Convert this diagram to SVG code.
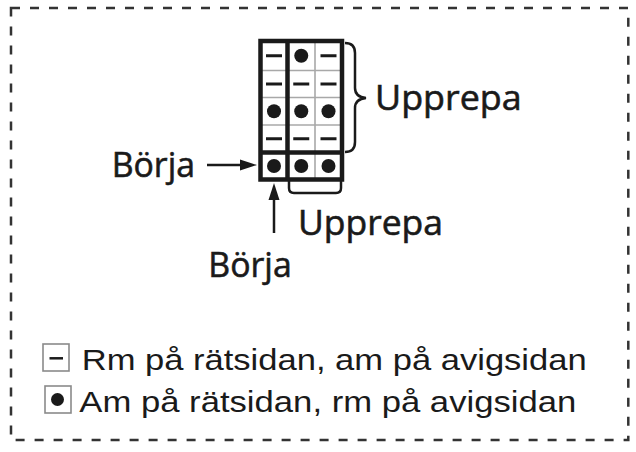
<svg xmlns="http://www.w3.org/2000/svg" width="636" height="452" viewBox="0 0 636 452">
<style>
.lbl{font-family:"Open Sans","Liberation Sans",sans-serif;font-size:35px;fill:#1a1a1a;stroke:#1a1a1a;stroke-width:0.6}
.leg{font-family:"Liberation Sans",Arial,sans-serif;font-size:29px;fill:#1a1a1a}
.thick{stroke:#1a1a1a;stroke-width:4.5;fill:none}
.thin{stroke:#a8a8a8;stroke-width:1.6;fill:none}
.dash{stroke:#1a1a1a;stroke-width:3}
.dot{fill:#1a1a1a}
.conn{stroke:#1a1a1a;stroke-width:2.5;fill:none}
.head{fill:#1a1a1a}
</style>
<rect width="636" height="452" fill="#ffffff"/>
<rect id="border" x="11" y="8" width="617.3" height="432" fill="none" stroke="#333" stroke-width="2.5" stroke-dasharray="9 10"/>
<g id="chart">
  <g id="grid-thin">
    <line class="thin" x1="315" y1="41" x2="315" y2="179.5"/>
    <line class="thin" x1="260.5" y1="70.5" x2="342" y2="70.5"/>
    <line class="thin" x1="260.5" y1="97.5" x2="342" y2="97.5"/>
    <line class="thin" x1="260.5" y1="125" x2="342" y2="125"/>
  </g>
  <g id="grid-thick">
    <rect class="thick" x="260.5" y="41" width="81.5" height="138.5"/>
    <line class="thick" x1="287.5" y1="41" x2="287.5" y2="179.5"/>
    <line class="thick" x1="260.5" y1="152.5" x2="342" y2="152.5"/>
  </g>
  <g id="symbols">
    <line class="dash" x1="266" y1="55.75" x2="282" y2="55.75"/>
    <circle class="dot" cx="301.25" cy="55.75" r="7"/>
    <line class="dash" x1="320.5" y1="55.75" x2="336.5" y2="55.75"/>
    <line class="dash" x1="266" y1="84" x2="282" y2="84"/>
    <line class="dash" x1="293.25" y1="84" x2="309.25" y2="84"/>
    <line class="dash" x1="320.5" y1="84" x2="336.5" y2="84"/>
    <circle class="dot" cx="274" cy="111.25" r="7"/>
    <circle class="dot" cx="301.25" cy="111.25" r="7"/>
    <circle class="dot" cx="328.5" cy="111.25" r="7"/>
    <line class="dash" x1="266" y1="138.75" x2="282" y2="138.75"/>
    <line class="dash" x1="293.25" y1="138.75" x2="309.25" y2="138.75"/>
    <line class="dash" x1="320.5" y1="138.75" x2="336.5" y2="138.75"/>
    <circle class="dot" cx="274" cy="166" r="7"/>
    <circle class="dot" cx="301.25" cy="166" r="7"/>
    <circle class="dot" cx="328.5" cy="166" r="7"/>
  </g>
</g>
<g id="connectors">
  <path id="brace-right" class="conn" d="M345,43 Q355,43 355,53 L355,88 Q355,97 366,98 Q355,99 355,108 L355,142 Q355,152 345,152"/>
  <path id="bracket-bottom" class="conn" d="M289,180 L289,188 Q289,193 294,193 L336,193 Q341,193 341,188 L341,180"/>
  <g id="arrow-left">
    <line class="conn" x1="207" y1="165" x2="244" y2="165"/>
    <polygon class="head" points="257,165 240,159.5 240,170.5"/>
  </g>
  <g id="arrow-up">
    <line class="conn" x1="274" y1="233" x2="274" y2="196"/>
    <polygon class="head" points="274,183 268.5,200 279.5,200"/>
  </g>
</g>
<g id="label-upprepa-rows"><text class="lbl" x="375" y="110" textLength="146.7" lengthAdjust="spacingAndGlyphs">Upprepa</text></g>
<g id="label-upprepa-cols"><text class="lbl" x="298" y="235" textLength="145" lengthAdjust="spacingAndGlyphs">Upprepa</text></g>
<g id="label-borja-left"><text class="lbl" x="111.7" y="176.7" textLength="83.3" lengthAdjust="spacingAndGlyphs">Börja</text></g>
<g id="label-borja-bottom"><text class="lbl" x="208.3" y="276.7" textLength="83.4" lengthAdjust="spacingAndGlyphs">Börja</text></g>
<g id="legend">
  <g id="legend-knit">
    <rect x="43" y="344" width="26" height="27" fill="#fff" stroke="#8a8a8a" stroke-width="1.6"/>
    <line x1="49.5" y1="358.3" x2="63" y2="358.3" stroke="#1a1a1a" stroke-width="2.5"/>
    <text class="leg" x="81.7" y="370" textLength="505" lengthAdjust="spacingAndGlyphs">Rm på rätsidan, am på avigsidan</text>
  </g>
  <g id="legend-purl">
    <rect x="45" y="386" width="26" height="27" fill="#fff" stroke="#8a8a8a" stroke-width="1.6"/>
    <circle cx="57.5" cy="399.5" r="6.5" fill="#1a1a1a"/>
    <text class="leg" x="79.3" y="411.7" textLength="497" lengthAdjust="spacingAndGlyphs">Am på rätsidan, rm på avigsidan</text>
  </g>
</g>
</svg>
